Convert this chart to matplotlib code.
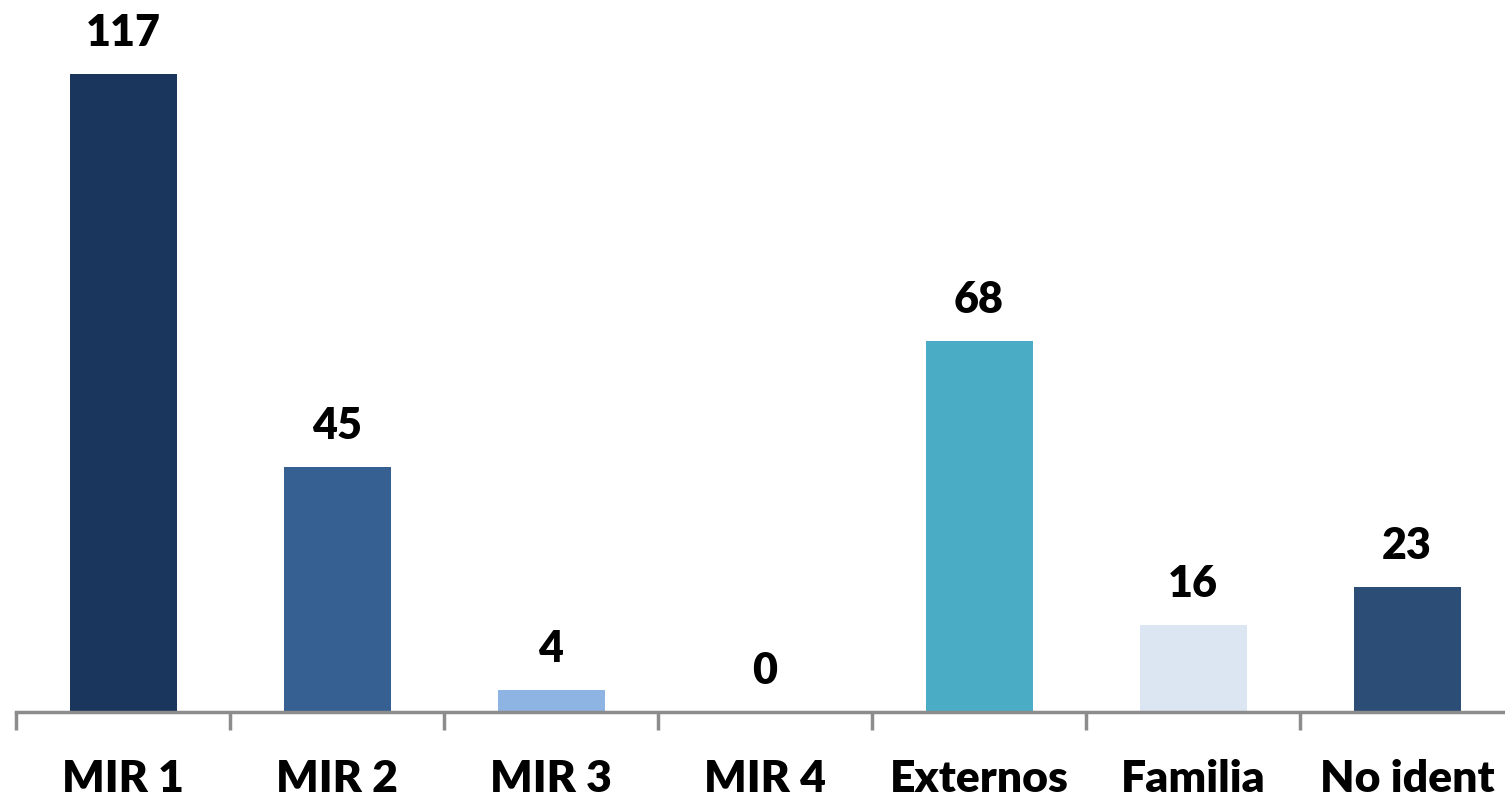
import matplotlib
matplotlib.use("Agg")
import matplotlib.pyplot as plt

# datos
categorias = ["MIR 1", "MIR 2", "MIR 3", "MIR 4", "Externos", "Familia", "No ident"]
valores = [117, 45, 4, 0, 68, 16, 23]
colores = ["#1b365d", "#376092", "#8eb4e3", "#8eb4e3", "#4bacc6", "#dce6f2", "#2c4d75"]

plt.rcParams['font.family'] = ['Lato', 'DejaVu Sans']

W, H = 1505, 806
fig = plt.figure(figsize=(W / 100, H / 100), dpi=100)
fig.patch.set_facecolor("white")

# ejes: ancho de categoria ~214 px, base en y=712
ax = fig.add_axes([16 / W, 94 / H, 1498 / W, 712 / H])
ax.set_facecolor("none")

x = list(range(len(categorias)))
ax.bar(x, valores, width=0.5, color=colores, zorder=2)

for xi, v in zip(x, valores):
    ax.annotate(str(v), (xi, v), xytext=(0, 15), textcoords="offset points",
                ha="center", va="bottom", fontsize=31, fontweight="heavy", color="black")

ax.set_xlim(-0.5, len(categorias) - 0.5)
ax.set_ylim(0, 130.6)

for s in ["top", "right", "left"]:
    ax.spines[s].set_visible(False)
ax.spines["bottom"].set_color("#8c8c8c")
ax.spines["bottom"].set_linewidth(2.5)
ax.set_yticks([])

# marcas entre categorias
ax.set_xticks([i - 0.5 for i in range(len(categorias) + 1)])
ax.set_xticklabels([])
ax.tick_params(axis="x", length=13, width=2.5, color="#8c8c8c", direction="out")
ax.set_xticks(x, minor=True)
ax.set_xticklabels(categorias, minor=True, fontsize=32, fontweight="heavy")
ax.tick_params(axis="x", which="minor", length=0, pad=34)

fig.savefig("out.png", dpi=100)
